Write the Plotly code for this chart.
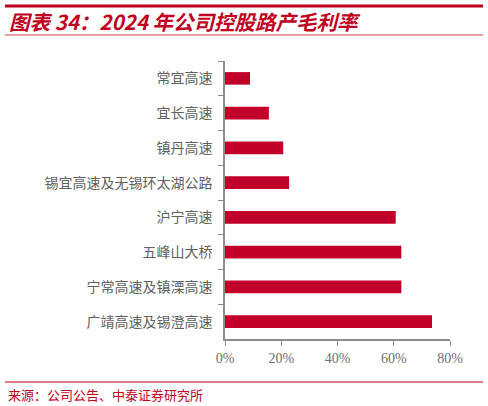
import plotly.graph_objects as go

# 2024年公司控股路产毛利率
roads = ["常宜高速", "宜长高速", "镇丹高速", "锡宜高速及无锡环太湖公路",
         "沪宁高速", "五峰山大桥", "宁常高速及镇溧高速", "广靖高速及锡澄高速"]
margin_pct = [8.9, 15.6, 20.7, 22.8, 60.7, 62.7, 62.7, 73.6]
x_ticks = [0, 20, 40, 60, 80]
x_labels = ["0%", "20%", "40%", "60%", "80%"]

title_txt = "图表 34：2024 年公司控股路产毛利率"
source_txt = "来源：公司公告、中泰证券研究所"

W, H = 488, 406
L, R, T, B = 225, 38, 61, 67
red = "#C0001E"
bar_color = "#C00028"
axis_gray = "#8C8C8C"


def px(x):
    # pixel x -> paper x
    return (x - L) / (W - L - R)


def py(y):
    # pixel y -> paper y
    return (H - B - y) / (H - T - B)


fig = go.Figure(
    go.Bar(
        y=roads,
        x=margin_pct,
        orientation="h",
        marker=dict(color=bar_color, line=dict(width=0)),
        width=0.36,
    )
)

fig.update_layout(
    width=W,
    height=H,
    margin=dict(l=L, r=R, t=T, b=B),
    paper_bgcolor="white",
    plot_bgcolor="white",
    showlegend=False,
    font=dict(family="Noto Sans CJK SC", color="#595959"),
    xaxis=dict(
        range=[0, 80],
        tickvals=x_ticks,
        ticktext=x_labels,
        showgrid=False,
        zeroline=False,
        showline=True,
        linecolor=axis_gray,
        linewidth=1.5,
        ticks="outside",
        ticklen=5,
        tickcolor=axis_gray,
        tickfont=dict(size=14, color="#6E6E6E", family="Liberation Serif"),
    ),
    yaxis=dict(
        autorange="reversed",
        showgrid=False,
        showline=True,
        linecolor=axis_gray,
        linewidth=1.5,
        ticks="outside",
        ticklen=5,
        tickcolor=axis_gray,
        tickson="boundaries",
        ticklabelstandoff=8,
        tickfont=dict(size=14, color="#606060"),
    ),
    shapes=[
        dict(type="line", xref="paper", yref="paper", x0=px(5), x1=px(483),
             y0=py(6), y1=py(6), line=dict(color=red, width=3)),
        dict(type="line", xref="paper", yref="paper", x0=px(5), x1=px(483),
             y0=py(35), y1=py(35), line=dict(color="#D04040", width=1)),
        dict(type="line", xref="paper", yref="paper", x0=px(5), x1=px(483),
             y0=py(382), y1=py(382), line=dict(color=red, width=1)),
    ],
    annotations=[
        dict(text="<b><i>" + title_txt + "</i></b>", xref="paper", yref="paper",
             x=px(7), y=py(21), xanchor="left", yanchor="middle",
             showarrow=False, font=dict(size=20.5, color=red, family="Noto Sans CJK SC")),
        dict(text=source_txt, xref="paper", yref="paper",
             x=px(6), y=py(394), xanchor="left", yanchor="middle",
             showarrow=False, font=dict(size=13, color=red, family="Noto Sans CJK SC")),
    ],
)

fig.write_html("out.html", config={"displayModeBar": False},
               post_script="document.body.style.margin='0';")
